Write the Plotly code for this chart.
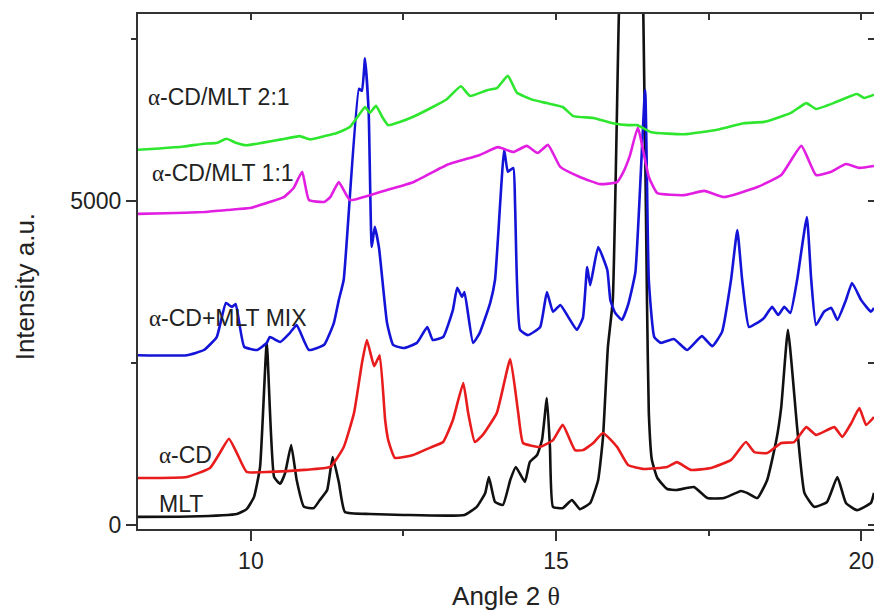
import plotly.graph_objects as go

# ---------------- data ----------------
green_x = [8.15, 8.5, 8.9, 9.2, 9.45, 9.6, 9.75, 9.93, 10.2, 10.5, 10.8, 10.97, 11.2, 11.41, 11.62, 11.75,
           11.87, 11.95, 12.05, 12.15, 12.25, 12.44, 12.66, 12.98, 13.21, 13.44, 13.59, 13.87, 14.03, 14.21,
           14.36, 14.62, 14.85, 15.11, 15.28, 15.61, 15.93, 16.18, 16.33, 16.56, 17.1, 17.64, 18.08, 18.41,
           18.85, 19.1, 19.26, 19.6, 19.93, 20.05, 20.21]
green_y = [5790, 5810, 5840, 5880, 5900, 5960, 5900, 5860, 5900, 5950, 6000, 5950, 6000, 6050, 6140, 6300,
           6450, 6360, 6470, 6300, 6170, 6220, 6300, 6450, 6570, 6770, 6620, 6710, 6740, 6930,
           6670, 6560, 6510, 6450, 6310, 6280, 6200, 6170, 6170, 6060, 6030, 6100, 6200, 6220,
           6360, 6510, 6420, 6530, 6650, 6590, 6640]

magenta_x = [8.15, 8.6, 9.23, 9.6, 9.98, 10.31, 10.54, 10.7, 10.84, 10.95, 11.2, 11.3, 11.44, 11.62, 11.95,
             12.23, 12.66, 13.21, 13.75, 14.05, 14.3, 14.52, 14.7, 14.87, 15.07, 15.39, 15.72, 16.0, 16.1,
             16.21, 16.34, 16.52, 16.66, 17.1, 17.43, 17.75, 18.3, 18.69, 19.02, 19.26, 19.51, 19.75, 19.97, 20.21]
magenta_y = [4800, 4810, 4830, 4860, 4890, 4985, 5060, 5200, 5450, 5015, 4985, 5060, 5290, 5015, 5090,
             5170, 5290, 5555, 5710, 5830, 5755, 5850, 5740, 5865, 5525, 5370, 5260, 5290, 5440,
             5700, 6130, 5370, 5120, 5090, 5155, 5060, 5215, 5400, 5850, 5400, 5450, 5570, 5510, 5540]

blue_x = [8.15, 8.95, 9.23, 9.44, 9.59, 9.69, 9.75, 9.89, 10.1, 10.26, 10.31, 10.48, 10.64, 10.75, 10.95,
          11.2, 11.36, 11.44, 11.52, 11.77, 11.82, 11.87, 11.93, 11.98, 12.03, 12.1, 12.23, 12.33, 12.5,
          12.72, 12.89, 12.98, 13.15, 13.31, 13.38, 13.46, 13.5, 13.64, 13.75, 13.92, 14.0, 14.15, 14.21,
          14.3, 14.33, 14.41, 14.54, 14.74, 14.85, 14.95, 15.07, 15.2, 15.34, 15.44, 15.51, 15.56, 15.69,
          15.84, 15.89, 15.97, 16.08, 16.18, 16.3, 16.46, 16.52, 16.61, 16.72, 16.93, 17.15, 17.39, 17.56,
          17.72, 17.87, 17.97, 18.05, 18.16, 18.3, 18.41, 18.54, 18.64, 18.74, 18.84, 18.95, 19.11, 19.18,
          19.26, 19.39, 19.51, 19.61, 19.75, 19.85, 20.0, 20.16, 20.21]
blue_y = [2620, 2620, 2700, 2900, 3425, 3365, 3410, 2750, 2700, 2810, 2900, 2825, 2965, 3085, 2700,
          2780, 3120, 3470, 3780, 6730, 6700, 7200, 6360, 4290, 4600, 4270, 3120, 2780, 2730,
          2810, 3055, 2855, 2900, 3320, 3660, 3520, 3595, 2810, 2965, 3425, 3780, 5790, 5450,
          5510, 4900, 3010, 2930, 3055, 3595, 3290, 3395, 3210, 3010, 3195, 3980, 3700, 4290,
          3935, 3470, 3270, 3165, 3395, 3900, 6710, 3780, 2900, 2810, 2870, 2700, 2915, 2760,
          2980, 3800, 4550, 3780, 3055, 3120, 3195, 3365, 3240, 3365, 3270, 3780, 4750, 3800,
          3085, 3290, 3350, 3165, 3470, 3735, 3470, 3290, 3350]

red_x = [8.15, 8.95, 9.33, 9.49, 9.64, 9.77, 9.93, 10.31, 10.87, 11.3, 11.52, 11.69, 11.82, 11.9, 12.02,
         12.11, 12.2, 12.25, 12.36, 12.66, 12.93, 13.15, 13.31, 13.48, 13.56, 13.67, 13.8, 14.03, 14.25,
         14.38, 14.46, 14.74, 14.95, 15.11, 15.31, 15.44, 15.61, 15.77, 16.0, 16.18, 16.44, 16.82, 16.98,
         17.21, 17.54, 17.87, 18.11, 18.25, 18.46, 18.69, 18.9, 19.1, 19.26, 19.56, 19.69, 19.84, 19.97,
         20.08, 20.21]
red_y = [725, 740, 880, 1110, 1330, 1110, 820, 820, 850, 895, 1200, 1730, 2500, 2855, 2450,
         2620, 1620, 1310, 1035, 1080, 1190, 1280, 1620, 2190, 1730, 1280, 1390, 1730, 2560,
         1730, 1265, 1205, 1310, 1545, 1155, 1155, 1265, 1420, 1205, 925, 865, 895, 970,
         850, 880, 1005, 1280, 1125, 1110, 1265, 1280, 1510, 1390, 1510, 1360, 1575, 1805,
         1545, 1665]

black_x = [8.15, 9.0, 9.77, 9.93, 10.05, 10.15, 10.26, 10.38, 10.48, 10.56, 10.66, 10.75, 10.87, 11.03,
           11.13, 11.25, 11.34, 11.44, 11.54, 11.95, 12.5, 13.5, 13.7, 13.84, 13.9, 14.0, 14.13, 14.25,
           14.34, 14.49, 14.57, 14.69, 14.77, 14.85, 14.9, 14.95, 15.11, 15.26, 15.39, 15.56, 15.69,
           15.77, 15.85, 15.93, 16.03, 16.15, 16.3, 16.43, 16.49, 16.52, 16.57, 16.66, 16.82, 16.98,
           17.26, 17.48, 17.75, 18.03, 18.13, 18.3, 18.46, 18.61, 18.69, 18.8, 18.95, 19.07, 19.23,
           19.44, 19.61, 19.75, 19.93, 20.16, 20.21]
black_y = [125, 130, 170, 245, 430, 895, 2810, 740, 635, 800, 1235, 695, 280, 260,
           385, 540, 1050, 665, 200, 170, 155, 155, 280, 495, 740, 355, 310, 695,
           895, 665, 970, 1080, 1310, 1960, 1205, 280, 260, 385, 245, 340, 695,
           1360, 2750, 3470, 7900, 11500, 11500, 7900, 3470, 1730, 1005, 725, 555, 540,
           585, 415, 415, 525, 495, 415, 695, 1310, 1820, 3010, 1510, 495, 280,
           355, 740, 340, 230, 340, 495]

series = [
    ("MLT", black_x, black_y, "#111111"),
    ("α-CD", red_x, red_y, "#e81c1c"),
    ("α-CD+MLT MIX", blue_x, blue_y, "#1414d8"),
    ("α-CD/MLT 1:1", magenta_x, magenta_y, "#e11ee1"),
    ("α-CD/MLT 2:1", green_x, green_y, "#2ee62e"),
]

label_text = ["α-CD/MLT 2:1", "α-CD/MLT 1:1", "α-CD+MLT MIX", "α-CD", "MLT"]
label_x = [8.28, 8.34, 8.29, 8.46, 8.46]
label_y = [6600, 5430, 3195, 1080, 325]

x_range = [8.15, 20.21]
y_range = [-62, 7885]

FONT = "Liberation Sans, Arial, sans-serif"
SERIF = "Liberation Serif"

fig = go.Figure()
for name, xs, ys, col in series:
    fig.add_trace(go.Scatter(x=xs, y=ys, mode="lines", name=name,
                             line=dict(color=col, width=2.6, shape="spline", smoothing=0.4),
                             showlegend=False, hoverinfo="skip"))

# invisible trace so the mirrored top/right axes are drawn
fig.add_trace(go.Scatter(x=[None], y=[None], xaxis="x2", yaxis="y2",
                         showlegend=False, hoverinfo="skip"))


def greek(s):
    out = ""
    for ch in s:
        if ch in "αθ":
            out += f"<span style=\"font-family:'{SERIF}'\">{ch}</span>"
        else:
            out += ch
    return out


for t, xx, yy in zip(label_text, label_x, label_y):
    fig.add_annotation(x=xx, y=yy, xref="x", yref="y", text=greek(t),
                       showarrow=False, xanchor="left", yanchor="middle",
                       font=dict(family=FONT, size=23, color="#222222"))

# y-axis title (placed slightly below the axis centre, as in the reference)
fig.add_annotation(x=-0.153, y=0.47, xref="paper", yref="paper", text="Intensity a.u.",
                   textangle=-90, showarrow=False, xanchor="center", yanchor="middle",
                   font=dict(family=FONT, size=26, color="#222222"))

axis_line = "#333333"
fig.update_layout(
    width=874, height=611,
    margin=dict(l=138, r=0, t=14, b=82),
    paper_bgcolor="white", plot_bgcolor="white",
    font=dict(family=FONT, color="#222222"),
    xaxis=dict(range=x_range, showgrid=False, zeroline=False,
               showline=True, linecolor=axis_line, linewidth=2,
               ticks="outside", ticklen=10, tickwidth=1.5, tickcolor=axis_line,
               tickmode="linear", tick0=0, dtick=5,
               minor=dict(ticks="outside", ticklen=5, tickwidth=1.5, tickcolor=axis_line,
                          tick0=0, dtick=2.5),
               tickfont=dict(size=23, family=FONT, color="#222222"),
               title=dict(text="Angle 2 " + greek("θ"), standoff=16,
                          font=dict(size=26, family=FONT, color="#222222"))),
    yaxis=dict(range=y_range, showgrid=False, zeroline=False,
               showline=True, linecolor=axis_line, linewidth=2,
               ticks="outside", ticklen=10, tickwidth=1.5, tickcolor=axis_line,
               tickmode="linear", tick0=0, dtick=5000,
               minor=dict(ticks="outside", ticklen=5, tickwidth=1.5, tickcolor=axis_line,
                          tick0=0, dtick=2500),
               tickfont=dict(size=23, family=FONT, color="#222222")),
    xaxis2=dict(range=x_range, overlaying="x", side="top", showgrid=False, zeroline=False,
                showline=True, linecolor=axis_line, linewidth=2,
                ticks="inside", ticklen=6, tickwidth=1.5, tickcolor=axis_line,
                tickmode="linear", tick0=0, dtick=2.5, showticklabels=False),
    yaxis2=dict(range=y_range, overlaying="y", side="right", showgrid=False, zeroline=False,
                showline=False,
                ticks="inside", ticklen=6, tickwidth=1.5, tickcolor=axis_line,
                tickmode="linear", tick0=0, dtick=2500, showticklabels=False),
)

fig.write_html("out.html")
